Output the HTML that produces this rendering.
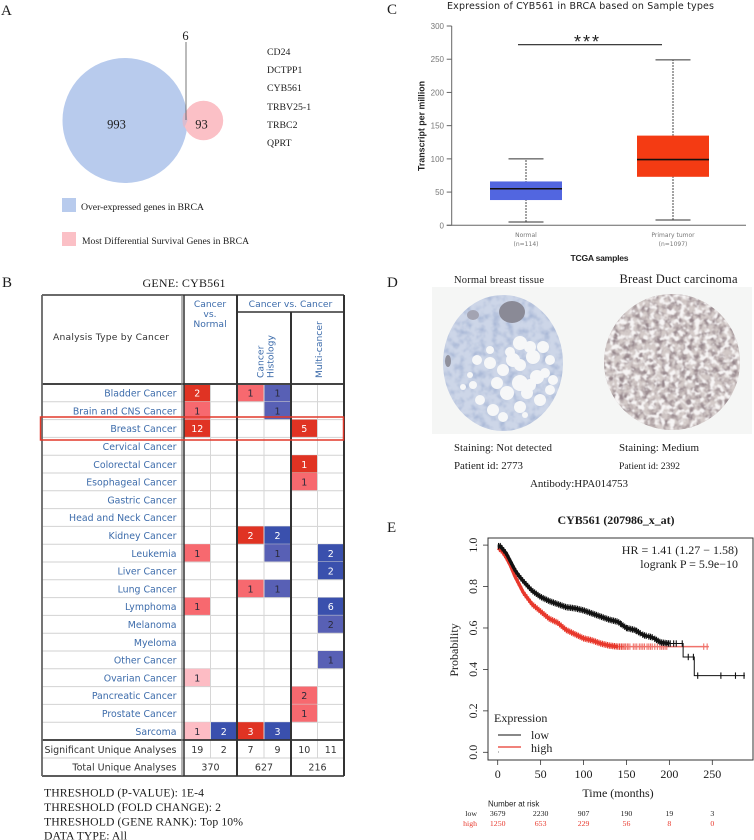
<!DOCTYPE html>
<html lang="en">
<head>
<meta charset="utf-8">
<title>CYB561 in BRCA figure</title>
<style>
html,body{margin:0;padding:0;background:#fff;width:754px;height:840px;overflow:hidden}
svg{display:block;filter:blur(0.3px)}
.serif{font-family:"Liberation Serif",serif;fill:#1c1c1c}
.sans{font-family:"Liberation Sans",sans-serif}
.dv{font-family:"DejaVu Sans",sans-serif}
</style>
</head>
<body>
<svg id="figure" xmlns="http://www.w3.org/2000/svg" width="754" height="840" viewBox="0 0 754 840">
<defs>
<filter id="mottle-blue" x="0" y="0" width="1" height="1" color-interpolation-filters="sRGB"><feTurbulence type="fractalNoise" baseFrequency="0.14" numOctaves="3" seed="4"/><feColorMatrix values="0 0 0 0 0.66 0 0 0 0 0.72 0 0 0 0 0.84 0 0 0 2.5 -1.1"/><feGaussianBlur stdDeviation="0.6"/><feComposite in2="SourceAlpha" operator="in"/></filter>
<filter id="mottle-dark" x="0" y="0" width="1" height="1" color-interpolation-filters="sRGB"><feTurbulence type="fractalNoise" baseFrequency="0.16" numOctaves="3" seed="9"/><feColorMatrix values="0 0 0 0 0.58 0 0 0 0 0.52 0 0 0 0 0.54 0 0 0 3 -1.2"/><feGaussianBlur stdDeviation="0.6"/><feComposite in2="SourceAlpha" operator="in"/></filter>
<filter id="mottle-white" x="0" y="0" width="1" height="1" color-interpolation-filters="sRGB"><feTurbulence type="fractalNoise" baseFrequency="0.2" numOctaves="2" seed="21"/><feColorMatrix values="0 0 0 0 0.97 0 0 0 0 0.96 0 0 0 0 0.96 0 0 0 5 -2.3"/><feGaussianBlur stdDeviation="0.6"/><feComposite in2="SourceAlpha" operator="in"/></filter>
<clipPath id="normal-clip"><ellipse cx="503" cy="363" rx="60" ry="68"/></clipPath>
</defs>

<!-- Panel A -->
<g id="panel-a">
<text class="serif" x="1" y="15" font-size="15">A</text>
<circle cx="125" cy="120.5" r="62.5" fill="#b8cbed"/>
<circle cx="203.5" cy="120.5" r="19.7" fill="#fbc0c6"/>
<path d="M184 113 A19.7 19.7 0 0 0 184 128 A62.5 62.5 0 0 0 187.5 120.5 A62.5 62.5 0 0 0 186 113Z" fill="#d9bcd0"/>
<line x1="186" y1="42" x2="186" y2="120" stroke="#555" stroke-width="0.8"/>
<text class="serif" x="185.5" y="40" font-size="12.5" text-anchor="middle">6</text>
<text class="serif" x="116.5" y="128.500" font-size="12.5" text-anchor="middle">993</text>
<text class="serif" x="201.500" y="128.500" font-size="12.5" text-anchor="middle">93</text>
<g class="serif" font-size="9.8">
<text x="267" y="55">CD24</text>
<text x="267" y="73">DCTPP1</text>
<text x="267" y="91">CYB561</text>
<text x="267" y="110">TRBV25-1</text>
<text x="267" y="128">TRBC2</text>
<text x="267" y="146">QPRT</text>
</g>
<rect x="62" y="198" width="14" height="14" fill="#b8cbed"/>
<text class="serif" x="81" y="210" font-size="9.8" textLength="123">Over-expressed genes in BRCA</text>
<rect x="62" y="232" width="14" height="14" fill="#fbc0c6"/>
<text class="serif" x="82" y="244" font-size="9.6" textLength="167">Most Differential Survival Genes in BRCA</text>
</g>

<!-- Panel B -->
<g id="panel-b">
<text class="serif" x="2" y="287" font-size="15">B</text>
<text class="serif" x="184" y="287" font-size="12" text-anchor="middle" textLength="83">GENE: CYB561</text>
<g id="heatmap"></g>
<g class="serif" font-size="11.7">
<text x="44" y="796.500" textLength="160">THRESHOLD (P-VALUE): 1E-4</text>
<text x="44" y="811" textLength="177">THRESHOLD (FOLD CHANGE): 2</text>
<text x="44" y="825.500" textLength="199">THRESHOLD (GENE RANK): Top 10%</text>
<text x="44" y="839.500" textLength="83">DATA TYPE: All</text>
</g>
</g>

<!-- Panel C -->
<g id="panel-c">
<text class="serif" x="387" y="14" font-size="15">C</text>
<text class="dv" x="447" y="9" font-size="9.5" textLength="267" fill="#222">Expression of CYB561 in BRCA based on Sample types</text>
<g id="boxplot"></g>
</g>

<!-- Panel D -->
<g id="panel-d">
<text class="serif" x="387" y="287" font-size="15">D</text>
<text class="serif" x="454" y="283" font-size="10.5" textLength="90">Normal breast tissue</text>
<text class="serif" x="619.500" y="283" font-size="12.5" textLength="118">Breast Duct carcinoma</text>
<rect x="432" y="287" width="320" height="147" fill="#f5f6f5"/>
<g>
<ellipse cx="503" cy="363" rx="60" ry="68" fill="#cdd6e8"/>
<ellipse cx="503" cy="363" rx="60" ry="68" fill="#000" filter="url(#mottle-blue)"/>
<g clip-path="url(#normal-clip)" fill="#f6f7f8">
<circle cx="520" cy="343" r="7"/><circle cx="530" cy="347" r="6"/><circle cx="543" cy="347" r="6"/><circle cx="513" cy="360" r="7"/><circle cx="533" cy="357" r="7"/><circle cx="550" cy="360" r="5"/><circle cx="490" cy="350" r="4"/><circle cx="477" cy="360" r="5"/><circle cx="490" cy="363" r="6"/><circle cx="503" cy="370" r="6"/><circle cx="520" cy="383" r="8"/><circle cx="537" cy="377" r="7"/><circle cx="553" cy="380" r="5"/><circle cx="497" cy="383" r="6"/><circle cx="507" cy="393" r="7"/><circle cx="527" cy="393" r="6"/><circle cx="550" cy="390" r="5"/><circle cx="473" cy="385" r="4"/><circle cx="463" cy="387" r="3"/><circle cx="480" cy="400" r="5"/><circle cx="493" cy="410" r="6"/><circle cx="503" cy="417" r="5"/><circle cx="520" cy="407" r="6"/><circle cx="540" cy="400" r="6"/><circle cx="530" cy="385" r="6"/><circle cx="510" cy="352" r="5"/><circle cx="520" cy="365" r="6"/><circle cx="545" cy="373" r="5"/><circle cx="470" cy="375" r="3"/><circle cx="525" cy="415" r="3"/>
</g>
<ellipse cx="512" cy="312" rx="13" ry="11" fill="#8a8a96"/>
<ellipse cx="473" cy="315" rx="6" ry="5" fill="#a3a4b2"/>
<ellipse cx="448" cy="361" rx="3" ry="6" fill="#8f909c"/>
</g>
<g>
<circle cx="672" cy="362" r="68" fill="#d3cac8"/>
<circle cx="672" cy="362" r="68" fill="#000" filter="url(#mottle-dark)"/>
<circle cx="672" cy="362" r="68" fill="#000" filter="url(#mottle-white)"/>
</g>
<g class="serif">
<text x="454" y="451" font-size="10.7" textLength="98">Staining: Not detected</text>
<text x="619" y="451" font-size="11" textLength="80">Staining: Medium</text>
<text x="454" y="469" font-size="10.9" textLength="69">Patient id: 2773</text>
<text x="619" y="469" font-size="9.7" textLength="61">Patient id: 2392</text>
<text x="530" y="487" font-size="11" textLength="98">Antibody:HPA014753</text>
</g>
</g>

<!-- Panel E -->
<g id="panel-e">
<text class="serif" x="387" y="532" font-size="15">E</text>
<text class="serif" x="616" y="524" font-size="12" font-weight="bold" text-anchor="middle" textLength="117">CYB561 (207986_x_at)</text>
<g id="km"></g>
</g>
</svg>

<script>
// ===== Oncomine heatmap data =====
const cancerTypes = ["Bladder Cancer","Brain and CNS Cancer","Breast Cancer","Cervical Cancer","Colorectal Cancer","Esophageal Cancer","Gastric Cancer","Head and Neck Cancer","Kidney Cancer","Leukemia","Liver Cancer","Lung Cancer","Lymphoma","Melanoma","Myeloma","Other Cancer","Ovarian Cancer","Pancreatic Cancer","Prostate Cancer","Sarcoma"];
const analysisCounts = [
 [2,0,1,1,0,0],[1,0,0,1,0,0],[12,0,0,0,5,0],[0,0,0,0,0,0],[0,0,0,0,1,0],
 [0,0,0,0,1,0],[0,0,0,0,0,0],[0,0,0,0,0,0],[0,0,2,2,0,0],[1,0,0,1,0,2],
 [0,0,0,0,0,2],[0,0,1,1,0,0],[1,0,0,0,0,6],[0,0,0,0,0,2],[0,0,0,0,0,0],
 [0,0,0,0,0,1],[1,0,0,0,0,0],[0,0,0,0,2,0],[0,0,0,0,1,0],[1,2,3,3,0,0]];
const rankShades = [
 [3,0,2,2,0,0],[2,0,0,2,0,0],[3,0,0,0,3,0],[0,0,0,0,0,0],[0,0,0,0,3,0],
 [0,0,0,0,2,0],[0,0,0,0,0,0],[0,0,0,0,0,0],[0,0,3,3,0,0],[2,0,0,2,0,3],
 [0,0,0,0,0,3],[0,0,2,2,0,0],[2,0,0,0,0,3],[0,0,0,0,0,2],[0,0,0,0,0,0],
 [0,0,0,0,0,2],[1,0,0,0,0,0],[0,0,0,0,2,0],[0,0,0,0,2,0],[1,3,3,3,0,0]];
const significantAnalyses = [19,2,7,9,10,11];
const totalAnalyses = [370,627,216];

// ===== Box plot data =====
const boxCategories = ["Normal","Primary tumor"];
const boxSampleCounts = ["(n=114)","(n=1097)"];
const boxWhiskerLow = [5,8];
const boxQ1 = [38,73];
const boxMedian = [55,99];
const boxQ3 = [66,135];
const boxWhiskerHigh = [100,249];
const boxTicks = [0,50,100,150,200,250,300];

// ===== Kaplan-Meier data =====
const lowTimes = [0,3,6,10,15,20,25,30,40,50,60,70,80,90,100,110,120,130,140,150,160,170,180,190,200,216,216,229,229,288];
const lowProb = [.995,.995,.98,.96,.92,.88,.85,.825,.78,.75,.73,.715,.70,.695,.685,.67,.655,.64,.63,.60,.59,.565,.555,.53,.525,.525,.46,.46,.37,.37];
const highTimes = [0,3,6,10,15,20,25,30,40,50,60,70,80,90,100,110,120,130,140,150,246];
const highProb = [.985,.98,.965,.94,.90,.85,.81,.77,.715,.68,.645,.625,.59,.57,.55,.54,.525,.515,.51,.51,.51];
const lowCensored = [1,3,5,7,9,11,13,15,17,19,21,23,25,27,29,31,33,35,37,39,41,43,45,47,49,51,53,55,57,59,61,63,65,67,69,71,73,75,77,79,81,83,85,87,89,91,93,95,97,99,101,103,105,107,109,111,113,115,117,119,121,123,125,127,129,131,133,135,137,139,141,143,144,146,148,150,151,153,155,157,159,161,162,164,166,169,171,173,176,178,180,183,185,187,189,191,193,195,197,199,201,205,208,215,222,228,233,260,277,287];
const highCensored = [2,4,6,8,10,12,14,16,18,20,22,24,26,28,30,32,34,36,38,40,42,44,46,48,50,52,54,56,58,60,62,64,66,68,70,72,74,76,78,80,82,84,86,88,90,92,94,96,98,100,102,104,106,108,110,112,114,116,118,120,122,124,126,128,130,132,134,136,138,140,142,144,146,148,149,151,152,154,158,160,162,165,167,169,171,174,176,178,180,183,186,189,191,193,195,197,240,244];
const kmXTicks = [0,50,100,150,200,250];
const kmYTicks = [0,0.2,0.4,0.6,0.8,1.0];
const riskLow = [3679,2230,907,190,19,3];
const riskHigh = [1250,653,229,56,8,0];

const NS = "http://www.w3.org/2000/svg";
function el(parent, tag, attrs, text){
  const n = document.createElementNS(NS, tag);
  for (const k in attrs) n.setAttribute(k, attrs[k]);
  if (text !== undefined) n.textContent = text;
  parent.appendChild(n);
  return n;
}
function slug(s){ return String(s).toLowerCase().replace(/[^a-z0-9]+/g,'-').replace(/^-|-$/g,''); }

/* ---------- Heatmap ---------- */
(function(){
  const g = document.getElementById('heatmap');
  const colEdges = [184,210.5,237,264,291,317.5,344];
  const rowTop = 384, rowH = 17.8;
  const rowY = i => rowTop + i * rowH;
  const reds = {1:'#fdbcc4',2:'#f7696f',3:'#e03323'};
  const blues = {2:'#5860b5',3:'#3a50ad'};
  const bottom = rowY(cancerTypes.length);
  const blue = '#3d6cab';
  const isRedCol = [true,false,true,false,true,false];

  const headerBg = el(g,'rect',{x:42,y:295,width:302,height:481,fill:'#fff'});
  
  

  cancerTypes.forEach((name,i)=>{
    const y = rowY(i);
    analysisCounts[i].forEach((v,c)=>{
      if(!v) return;
      const shade = rankShades[i][c];
      const cell = el(g,'rect',{x:colEdges[c],y:y,width:colEdges[c+1]-colEdges[c],height:rowH,fill:isRedCol[c]?reds[shade]:blues[shade]});
      
      
      const t = el(g,'text',{x:(colEdges[c]+colEdges[c+1])/2,y:y+12.6,'font-size':9.5,'text-anchor':'middle',class:'dv',fill:shade===3?'#fff':'#2a2a3a'},v);
      
      
    });
    const lab = el(g,'text',{x:176.5,y:y+12.6,'font-size':9.4,'text-anchor':'end',class:'dv',fill:blue},name);
    
    
    const ln = el(g,'line',{x1:42,x2:344,y1:y+rowH,y2:y+rowH,stroke:'#d2d2d2','stroke-width':1});
    
    
  });

  [210.5,264,317.5].forEach(x=>{
    const l = el(g,'line',{x1:x,x2:x,y1:rowTop,y2:bottom+18,stroke:'#d6d6d6','stroke-width':1});
    
    
  });

  // Summary rows
  const sigLabel = el(g,'text',{x:176.5,y:bottom+12.8,'font-size':9.5,'text-anchor':'end',class:'dv',fill:'#333'},'Significant Unique Analyses');
  
  
  const totLabel = el(g,'text',{x:176.5,y:bottom+30.6,'font-size':9.5,'text-anchor':'end',class:'dv',fill:'#333'},'Total Unique Analyses');
  
  
  significantAnalyses.forEach((v,c)=>{
    const t = el(g,'text',{x:(colEdges[c]+colEdges[c+1])/2,y:bottom+12.8,'font-size':9.5,'text-anchor':'middle',class:'dv',fill:'#333'},v);
    
    
  });
  totalAnalyses.forEach((v,k)=>{
    const t = el(g,'text',{x:(colEdges[k*2]+colEdges[k*2+2])/2,y:bottom+30.6,'font-size':9.5,'text-anchor':'middle',class:'dv',fill:'#333'},v);
    
    
  });
  const sep = el(g,'line',{x1:42,x2:344,y1:bottom+18,y2:bottom+18,stroke:'#d2d2d2','stroke-width':1});
  
  

  // Header text
  const h1 = el(g,'text',{x:111,y:340,'font-size':9.2,'text-anchor':'middle',class:'dv',fill:'#333',textLength:116},'Analysis Type by Cancer');
  
  
  const h2 = el(g,'text',{x:210,y:307,'font-size':9.2,'text-anchor':'middle',class:'dv',fill:blue},'Cancer');
  
  
  const h3 = el(g,'text',{x:210,y:317,'font-size':9.2,'text-anchor':'middle',class:'dv',fill:blue},'vs.');
  
  
  const h4 = el(g,'text',{x:210,y:327,'font-size':9.2,'text-anchor':'middle',class:'dv',fill:blue},'Normal');
  
  
  const h5 = el(g,'text',{x:290.5,y:307,'font-size':9.2,'text-anchor':'middle',class:'dv',fill:blue},'Cancer vs. Cancer');
  
  
  const h6 = el(g,'text',{transform:'translate(263.5,378) rotate(-90)','font-size':9.2,class:'dv',fill:blue},'Cancer');
  
  
  const h7 = el(g,'text',{transform:'translate(273.5,378) rotate(-90)','font-size':9.2,class:'dv',fill:blue},'Histology');
  
  
  const h8 = el(g,'text',{transform:'translate(322,378) rotate(-90)','font-size':9.2,class:'dv',fill:blue},'Multi-cancer');
  
  

  // Heavy grid
  const frame = [
    [42,295,344,295,'#555',1.7],[237,312,344,312,'#333',1.4],[42,384,344,384,'#444',1.9],
    [42,bottom,344,bottom,'#333',1.8],[42,bottom+36,344,bottom+36,'#444',1.8],
    [42,295,42,bottom+36,'#666',1.8],[182,295,182,bottom+36,'#777',1.1],[184,295,184,bottom+36,'#333',1.5],
    [237,295,237,bottom+36,'#333',2],[291,312,291,bottom+36,'#333',2],[344,295,344,bottom+36,'#333',2]
  ];
  frame.forEach(f=>{
    const l = el(g,'line',{x1:f[0],y1:f[1],x2:f[2],y2:f[3],stroke:f[4],'stroke-width':f[5]});
    
    
  });

  const hi = el(g,'rect',{x:40.5,y:417,width:303,height:23,fill:'none',stroke:'#e2382a','stroke-width':1.5});
  
  
})();

/* ---------- Box plot ---------- */
(function(){
  const g = document.getElementById('boxplot');
  const y = v => 225.3 - v * (199.3/300);
  const cx = i => 526 + i * 147;
  const colors = ['#5266e0','#f43b13'];
  const axisY = el(g,'line',{x1:451.7,x2:451.7,y1:y(300),y2:y(0),stroke:'#666','stroke-width':1});
  
  
  const axisX = el(g,'line',{x1:446.7,x2:746,y1:y(0),y2:y(0),stroke:'#666','stroke-width':1});
  
  
  boxTicks.forEach(v=>{
    const t = el(g,'line',{x1:446.7,x2:451.7,y1:y(v),y2:y(v),stroke:'#666','stroke-width':1});
    
    
    const l = el(g,'text',{x:444,y:y(v)+3,'font-size':8,'text-anchor':'end',class:'sans',fill:'#777'},v);
    
    
  });
  boxCategories.forEach((c,i)=>{
    const x = cx(i);
    const s = slug(c);
    const w = el(g,'line',{x1:x,x2:x,y1:y(boxWhiskerLow[i]),y2:y(boxWhiskerHigh[i]),stroke:'#666','stroke-width':1.2,'stroke-dasharray':'2 1'});
    
    
    [boxWhiskerLow[i],boxWhiskerHigh[i]].forEach(v=>{
      const cap = el(g,'line',{x1:x-17.5,x2:x+17.5,y1:y(v),y2:y(v),stroke:'#333','stroke-width':1});
      
      
    });
    const b = el(g,'rect',{x:x-36,y:y(boxQ3[i]),width:72,height:y(boxQ1[i])-y(boxQ3[i]),fill:colors[i]});
    
    
    const m = el(g,'line',{x1:x-36,x2:x+36,y1:y(boxMedian[i]),y2:y(boxMedian[i]),stroke:'#14100f','stroke-width':1.6});
    
    
    const l1 = el(g,'text',{x:x,y:237,'font-size':6,'text-anchor':'middle',class:'dv',fill:'#777'},c);
    
    
    const l2 = el(g,'text',{x:x,y:246,'font-size':6,'text-anchor':'middle',class:'dv',fill:'#777'},boxSampleCounts[i]);
    
    
  });
  const bar = el(g,'line',{x1:518,x2:662,y1:44.7,y2:44.7,stroke:'#222','stroke-width':1.1});
  
  
  const star = el(g,'text',{x:587.5,y:48,'font-size':18,'text-anchor':'middle',class:'sans',fill:'#222','letter-spacing':'2'},'***');
  
  
  const yt = el(g,'text',{transform:'translate(424.5,126) rotate(-90)','font-size':8.8,'font-weight':'bold','text-anchor':'middle',class:'sans',fill:'#222',textLength:90},'Transcript per million');
  
  
  const xt = el(g,'text',{x:599.5,y:261,'font-size':8.6,'font-weight':'bold','text-anchor':'middle',class:'sans',fill:'#222',textLength:58},'TCGA samples');
  
  
})();

/* ---------- Kaplan-Meier ---------- */
(function(){
  const g = document.getElementById('km');
  const x = t => 497.7 + t * 0.8584;
  const y = p => 752.3 - p * 207.2;
  const black = '#111', red = '#e8382c', salmon = '#f0726b';
  function probAt(ts,ps,t){
    for(let i=1;i<ts.length;i++){
      if(t<=ts[i]){
        const d = ts[i]-ts[i-1];
        return d===0 ? ps[i-1] : ps[i-1]+(ps[i]-ps[i-1])*(t-ts[i-1])/d;
      }
    }
    return ps[ps.length-1];
  }
  const box = el(g,'rect',{x:488,y:538,width:265,height:222,fill:'#fff',stroke:'#333','stroke-width':1});
  
  

  const highLine = el(g,'polyline',{points:highTimes.map((t,i)=>x(t)+','+y(highProb[i])).join(' '),fill:'none',stroke:salmon,'stroke-width':1.5});
  
  
  highCensored.forEach(t=>{
    const p = probAt(highTimes,highProb,t);
    const m = el(g,'line',{x1:x(t),x2:x(t),y1:y(p)-3.2,y2:y(p)+3.2,stroke:t>147?salmon:red,'stroke-width':1.1});
    
    
  });
  const highBand = el(g,'polyline',{points:highTimes.filter(t=>t<=145).map((t)=>x(t)+','+y(probAt(highTimes,highProb,t))).join(' '),fill:'none',stroke:red,'stroke-width':3.4});
  
  

  const lowLine = el(g,'polyline',{points:lowTimes.map((t,i)=>x(t)+','+y(lowProb[i])).join(' '),fill:'none',stroke:black,'stroke-width':1});
  
  
  lowCensored.forEach(t=>{
    const p = probAt(lowTimes,lowProb,t);
    const m = el(g,'line',{x1:x(t),x2:x(t),y1:y(p)-3.2,y2:y(p)+3.2,stroke:black,'stroke-width':1.1});
    
    
  });
  const lowBand = el(g,'polyline',{points:lowTimes.filter(t=>t<=200).map((t)=>x(t)+','+y(probAt(lowTimes,lowProb,t))).join(' '),fill:'none',stroke:black,'stroke-width':3.4});
  
  

  kmXTicks.forEach(v=>{
    const t = el(g,'line',{x1:x(v),x2:x(v),y1:760,y2:765,stroke:'#333','stroke-width':0.8});
    
    
    const l = el(g,'text',{x:x(v),y:778,'font-size':12,'text-anchor':'middle',class:'serif'},v);
    
    
  });
  kmYTicks.forEach(v=>{
    const t = el(g,'line',{x1:483,x2:488,y1:y(v),y2:y(v),stroke:'#333','stroke-width':0.8});
    
    
    const l = el(g,'text',{transform:'translate(477,'+y(v)+') rotate(-90)','font-size':12,'text-anchor':'middle',class:'serif'},v.toFixed(1));
    
    
  });
  const yt = el(g,'text',{transform:'translate(458,650) rotate(-90)','font-size':12,'text-anchor':'middle',class:'serif'},'Probability');
  
  
  const xt = el(g,'text',{x:618,y:797,'font-size':12,'text-anchor':'middle',class:'serif'},'Time (months)');
  
  
  const hr = el(g,'text',{x:738,y:554,'font-size':12,'text-anchor':'end',class:'serif'},'HR = 1.41 (1.27 \u2212 1.58)');
  
  
  const lr = el(g,'text',{x:738,y:568,'font-size':12,'text-anchor':'end',class:'serif'},'logrank P = 5.9e\u221210');
  
  

  const lgT = el(g,'text',{x:494,y:722,'font-size':12,class:'serif'},'Expression');
  
  
  const lg1 = el(g,'line',{x1:498,x2:521,y1:735,y2:735,stroke:black,'stroke-width':1});
  
  
  const lg2 = el(g,'line',{x1:498,x2:521,y1:747,y2:747,stroke:red,'stroke-width':1.2});
  
  
  const dot = el(g,'circle',{cx:498.5,cy:752,r:0.5,fill:'#555'});
  
  
  const lt1 = el(g,'text',{x:531,y:739,'font-size':12,class:'serif'},'low');
  
  
  const lt2 = el(g,'text',{x:531,y:752,'font-size':12,class:'serif'},'high');
  
  

  const nr = el(g,'text',{x:488,y:806.500,'font-size':7.9,class:'sans',fill:'#222'},'Number at risk');
  
  
  const rl = el(g,'text',{x:477,y:816,'font-size':7.8,'text-anchor':'end',class:'serif'},'low');
  
  
  const rh = el(g,'text',{x:477,y:826,'font-size':7.8,'text-anchor':'end',class:'serif',style:'fill:'+red},'high');
  
  
  kmXTicks.forEach((v,i)=>{
    const a = el(g,'text',{x:x(v),y:816,'font-size':7.8,'text-anchor':'middle',class:'serif'},riskLow[i]);
    
    
    const b = el(g,'text',{x:x(v),y:826,'font-size':7.8,'text-anchor':'middle',class:'serif',style:'fill:'+red},riskHigh[i]);
    
    
  });
})();
</script>
</body>
</html>
